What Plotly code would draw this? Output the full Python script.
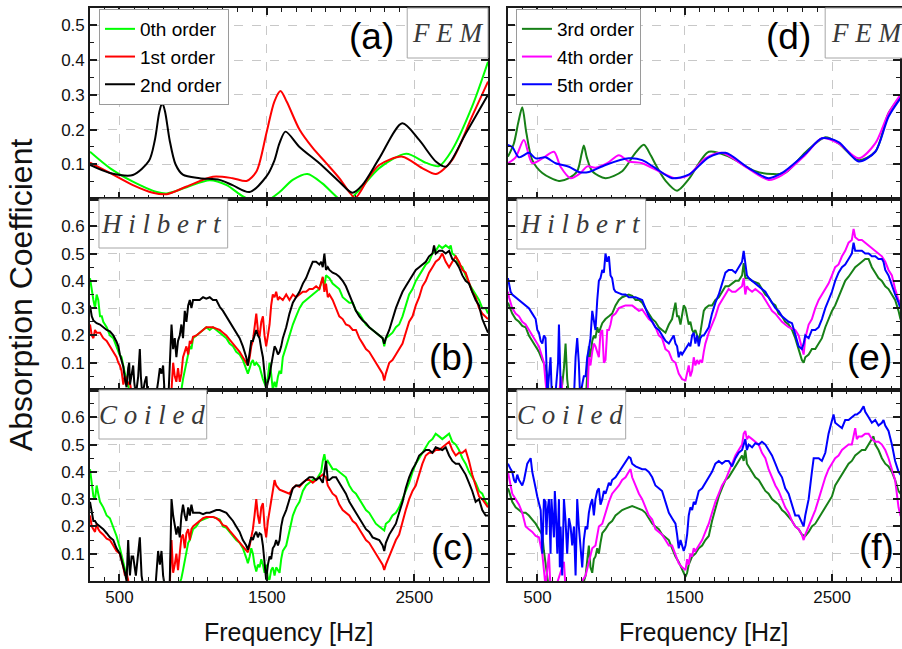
import plotly.graph_objects as go

# ---------------- data: (frequency [Hz], absorption coefficient) ----------------
# (a) FEM, orders 0-2
fem0 = [(300, 0.136), (435, 0.089), (591, 0.05), (753, 0.02), (821, 0.016), (956, 0.034), (1112, 0.054),
        (1227, 0.04), (1335, 0.008), (1420, -0.008), (1500, -0.005), (1586, 0.02), (1675, 0.055), (1775, 0.072),
        (1876, 0.045), (1991, 0.0), (2038, -0.008), (2127, 0.026), (2262, 0.089), (2445, 0.13), (2580, 0.104),
        (2668, 0.095), (2756, 0.141), (2891, 0.265), (3000, 0.395)]
fem1 = [(300, 0.105), (435, 0.075), (591, 0.04), (726, 0.018), (821, 0.014), (956, 0.036), (1134, 0.064),
        (1267, 0.06), (1362, 0.052), (1430, 0.08), (1497, 0.19), (1550, 0.28), (1592, 0.311), (1635, 0.28),
        (1721, 0.2), (1811, 0.147), (1901, 0.104), (1991, 0.06), (2059, 0.02), (2100, 0.003), (2194, 0.064),
        (2262, 0.098), (2418, 0.122), (2553, 0.089), (2648, 0.072), (2756, 0.112), (2891, 0.237), (3000, 0.338)]
fem2 = [(300, 0.098), (435, 0.075), (591, 0.069), (700, 0.11), (740, 0.17), (770, 0.25), (790, 0.277),
        (810, 0.25), (840, 0.17), (880, 0.10), (930, 0.07), (1044, 0.06), (1179, 0.055), (1267, 0.04),
        (1382, 0.02), (1497, 0.065), (1550, 0.11), (1585, 0.16), (1626, 0.194), (1721, 0.15), (1856, 0.103),
        (1991, 0.05), (2080, 0.018), (2147, 0.04), (2262, 0.117), (2418, 0.218), (2533, 0.17), (2648, 0.107),
        (2715, 0.093), (2851, 0.19), (3000, 0.30)]
# (d) FEM, orders 3-5
fem3 = [(300, 0.122), (340, 0.16), (370, 0.22), (397, 0.264), (425, 0.19), (465, 0.112), (533, 0.075),
        (646, 0.052), (714, 0.06), (770, 0.08), (800, 0.13), (815, 0.154), (835, 0.12), (872, 0.08), (962, 0.06),
        (1075, 0.08), (1160, 0.13), (1222, 0.156), (1270, 0.125), (1301, 0.1), (1369, 0.053), (1448, 0.024),
        (1527, 0.057), (1663, 0.136), (1798, 0.122), (1979, 0.08), (2092, 0.072), (2182, 0.075), (2318, 0.134),
        (2454, 0.178), (2544, 0.16), (2680, 0.112), (2793, 0.136), (2883, 0.247), (2964, 0.295), (3000, 0.32)]
fem4 = [(300, 0.103), (352, 0.12), (408, 0.17), (465, 0.103), (544, 0.12), (612, 0.136), (657, 0.093),
        (725, 0.06), (793, 0.075), (838, 0.094), (894, 0.09), (974, 0.103), (1053, 0.126), (1120, 0.108),
        (1211, 0.103), (1346, 0.075), (1437, 0.06), (1527, 0.069), (1640, 0.117), (1753, 0.133), (1911, 0.093),
        (2069, 0.055), (2160, 0.069), (2318, 0.127), (2431, 0.175), (2544, 0.16), (2680, 0.117), (2793, 0.16),
        (2883, 0.247), (2964, 0.3), (3000, 0.32)]
fem5 = [(300, 0.156), (329, 0.15), (375, 0.12), (442, 0.133), (488, 0.117), (555, 0.12), (623, 0.103),
        (714, 0.093), (781, 0.078), (849, 0.078), (962, 0.098), (1120, 0.117), (1211, 0.112), (1301, 0.089),
        (1414, 0.06), (1527, 0.07), (1663, 0.12), (1776, 0.133), (1934, 0.089), (2069, 0.06), (2160, 0.075),
        (2318, 0.13), (2431, 0.175), (2544, 0.164), (2680, 0.108), (2793, 0.136), (2883, 0.237), (2964, 0.29),
        (3000, 0.31)]

# (b) Hilbert, orders 0-2
hil0 = [(300, 0.41), (312, 0.36), (323, 0.33), (334, 0.30), (345, 0.35), (356, 0.33), (368, 0.27), (380, 0.27),
        (390, 0.25), (413, 0.23), (435, 0.20), (458, 0.19), (480, 0.16), (500, 0.13), (514, 0.12), (526, 0.08),
        (537, 0.06), (548, 0.04), (559, 0.02), (570, -0.02), (600, -0.05), (700, -0.05), (800, -0.05), (900, -0.03),
        (920, 0.0), (931, 0.04), (943, 0.07), (954, 0.10), (966, 0.13), (977, 0.16), (988, 0.15), (999, 0.19),
        (1022, 0.20), (1044, 0.21), (1067, 0.22), (1089, 0.23), (1112, 0.22), (1134, 0.23), (1157, 0.22),
        (1180, 0.21), (1202, 0.20), (1225, 0.19), (1247, 0.17), (1270, 0.16), (1292, 0.14), (1315, 0.13),
        (1337, 0.11), (1360, 0.08), (1371, 0.06), (1383, 0.08), (1394, 0.10), (1405, 0.11), (1416, 0.09),
        (1428, 0.10), (1450, 0.085), (1473, 0.04), (1495, 0.01), (1507, 0.05), (1518, 0.10), (1529, 0.06),
        (1540, 0.0), (1552, 0.03), (1563, 0.01), (1575, 0.05), (1586, 0.07), (1597, 0.06), (1608, 0.12),
        (1631, 0.16), (1653, 0.20), (1676, 0.24), (1698, 0.27), (1721, 0.30), (1744, 0.32), (1766, 0.33),
        (1788, 0.34), (1811, 0.35), (1834, 0.36), (1856, 0.37), (1879, 0.41), (1890, 0.38), (1901, 0.42),
        (1924, 0.41), (1946, 0.39), (1969, 0.38), (1991, 0.37), (2014, 0.34), (2036, 0.33), (2059, 0.32),
        (2082, 0.32), (2104, 0.29), (2127, 0.28), (2150, 0.26), (2172, 0.24), (2194, 0.23), (2217, 0.22),
        (2239, 0.21), (2262, 0.20), (2285, 0.19), (2296, 0.16), (2307, 0.19), (2330, 0.20), (2352, 0.21),
        (2375, 0.23), (2397, 0.24), (2420, 0.27), (2442, 0.31), (2465, 0.35), (2488, 0.37), (2510, 0.40),
        (2533, 0.42), (2555, 0.44), (2578, 0.46), (2600, 0.47), (2623, 0.50), (2645, 0.51), (2668, 0.53),
        (2690, 0.52), (2713, 0.53), (2736, 0.52), (2747, 0.53), (2758, 0.50), (2781, 0.49), (2803, 0.46),
        (2826, 0.45), (2848, 0.42), (2871, 0.39), (2893, 0.37), (2916, 0.35), (2939, 0.33), (2961, 0.30),
        (2984, 0.30), (3000, 0.28)]
hil1 = [(300, 0.24), (312, 0.20), (323, 0.19), (334, 0.22), (345, 0.21), (368, 0.21), (390, 0.19), (413, 0.18),
        (435, 0.16), (458, 0.14), (480, 0.12), (492, 0.10), (503, 0.09), (514, 0.07), (526, 0.02), (537, 0.05),
        (548, 0.04), (559, 0.02), (570, 0.03), (582, -0.01), (600, -0.05), (700, -0.05), (800, -0.05),
        (840, -0.02), (853, 0.0), (864, 0.10), (875, 0.05), (886, 0.03), (897, 0.08), (909, 0.03), (920, 0.06),
        (931, 0.12), (943, 0.14), (954, 0.16), (966, 0.13), (977, 0.18), (988, 0.17), (999, 0.195), (1022, 0.20),
        (1044, 0.21), (1067, 0.22), (1089, 0.23), (1112, 0.23), (1134, 0.23), (1157, 0.225), (1180, 0.22),
        (1202, 0.21), (1225, 0.20), (1247, 0.185), (1270, 0.17), (1292, 0.155), (1315, 0.14), (1337, 0.12),
        (1360, 0.10), (1371, 0.09), (1383, 0.12), (1394, 0.16), (1405, 0.18), (1416, 0.24), (1428, 0.28),
        (1439, 0.22), (1450, 0.195), (1462, 0.25), (1473, 0.27), (1484, 0.20), (1495, 0.16), (1507, 0.20),
        (1518, 0.24), (1529, 0.31), (1540, 0.35), (1552, 0.34), (1563, 0.36), (1575, 0.33), (1586, 0.34),
        (1608, 0.33), (1631, 0.35), (1653, 0.33), (1676, 0.35), (1698, 0.34), (1721, 0.35), (1744, 0.36),
        (1766, 0.36), (1788, 0.37), (1811, 0.37), (1834, 0.38), (1856, 0.37), (1868, 0.40), (1879, 0.415),
        (1890, 0.36), (1901, 0.39), (1913, 0.34), (1924, 0.35), (1946, 0.33), (1969, 0.30), (1991, 0.27),
        (2014, 0.26), (2036, 0.24), (2059, 0.235), (2082, 0.22), (2104, 0.22), (2127, 0.19), (2150, 0.17),
        (2172, 0.15), (2194, 0.14), (2217, 0.12), (2239, 0.10), (2262, 0.085), (2285, 0.06), (2296, 0.035),
        (2307, 0.06), (2330, 0.10), (2352, 0.11), (2375, 0.13), (2397, 0.15), (2420, 0.17), (2442, 0.21),
        (2465, 0.25), (2488, 0.27), (2510, 0.31), (2533, 0.34), (2555, 0.38), (2578, 0.40), (2600, 0.43),
        (2623, 0.45), (2645, 0.47), (2668, 0.48), (2690, 0.50), (2713, 0.47), (2736, 0.45), (2758, 0.47),
        (2781, 0.49), (2803, 0.47), (2826, 0.44), (2848, 0.43), (2871, 0.39), (2893, 0.36), (2916, 0.34),
        (2939, 0.30), (2961, 0.28), (2984, 0.27), (3000, 0.26)]
hil2 = [(300, 0.31), (312, 0.27), (323, 0.255), (334, 0.25), (345, 0.245), (368, 0.24), (390, 0.23),
        (413, 0.22), (435, 0.215), (458, 0.20), (480, 0.177), (492, 0.16), (503, 0.13), (514, 0.11), (526, 0.085),
        (537, 0.04), (548, 0.01), (559, 0.08), (566, 0.10), (571, 0.02), (582, 0.05), (593, 0.09), (600, 0.03),
        (611, -0.02), (627, 0.05), (638, 0.15), (645, 0.05), (655, -0.02), (672, 0.03), (683, 0.05),
        (692, -0.03), (740, -0.05), (762, 0.03), (774, 0.08), (785, 0.06), (796, 0.09), (805, 0.0), (830, -0.05),
        (853, 0.24), (864, 0.15), (875, 0.19), (886, 0.12), (897, 0.18), (909, 0.20), (920, 0.24), (931, 0.19),
        (943, 0.29), (954, 0.25), (966, 0.31), (977, 0.33), (988, 0.30), (999, 0.33), (1022, 0.33), (1044, 0.33),
        (1067, 0.34), (1089, 0.335), (1112, 0.34), (1134, 0.33), (1157, 0.33), (1180, 0.305), (1202, 0.29),
        (1225, 0.27), (1247, 0.25), (1270, 0.23), (1292, 0.21), (1315, 0.19), (1337, 0.16), (1360, 0.12),
        (1371, 0.09), (1383, 0.13), (1394, 0.18), (1405, 0.18), (1416, 0.20), (1428, 0.22), (1439, 0.20),
        (1450, 0.19), (1462, 0.15), (1473, 0.12), (1484, 0.06), (1495, 0.0), (1507, 0.03), (1518, 0.05),
        (1529, 0.09), (1540, 0.12), (1552, 0.16), (1563, 0.15), (1575, 0.13), (1586, 0.14), (1597, 0.16),
        (1608, 0.19), (1631, 0.23), (1653, 0.28), (1676, 0.32), (1698, 0.34), (1721, 0.36), (1744, 0.39),
        (1766, 0.41), (1788, 0.44), (1811, 0.47), (1834, 0.47), (1856, 0.46), (1868, 0.47), (1879, 0.45),
        (1890, 0.50), (1901, 0.44), (1913, 0.45), (1924, 0.44), (1946, 0.43), (1969, 0.425), (1991, 0.415),
        (2014, 0.40), (2036, 0.38), (2059, 0.35), (2082, 0.32), (2104, 0.29), (2127, 0.27), (2150, 0.255),
        (2172, 0.245), (2194, 0.23), (2217, 0.22), (2239, 0.21), (2262, 0.20), (2285, 0.19), (2296, 0.17),
        (2307, 0.19), (2330, 0.22), (2352, 0.26), (2375, 0.30), (2397, 0.33), (2420, 0.36), (2442, 0.38),
        (2465, 0.40), (2488, 0.42), (2510, 0.44), (2533, 0.45), (2555, 0.46), (2578, 0.47), (2600, 0.49),
        (2623, 0.50), (2634, 0.53), (2645, 0.50), (2668, 0.51), (2690, 0.51), (2713, 0.50), (2736, 0.51),
        (2758, 0.48), (2781, 0.47), (2803, 0.45), (2826, 0.42), (2848, 0.40), (2871, 0.39), (2893, 0.36),
        (2916, 0.33), (2939, 0.31), (2961, 0.26), (2984, 0.23), (3000, 0.21)]

# (c) Coiled, orders 0-2
coi0 = [(300, 0.41), (312, 0.35), (323, 0.31), (334, 0.30), (345, 0.35), (356, 0.32), (368, 0.29), (390, 0.27),
        (413, 0.24), (435, 0.23), (458, 0.20), (480, 0.165), (503, 0.12), (526, 0.07), (548, 0.03), (559, 0.005),
        (570, -0.03), (700, -0.05), (850, -0.05), (900, -0.02), (920, 0.01), (931, 0.04), (943, 0.08),
        (954, 0.11), (966, 0.14), (977, 0.15), (999, 0.19), (1022, 0.20), (1044, 0.22), (1067, 0.225),
        (1089, 0.23), (1112, 0.235), (1134, 0.235), (1157, 0.23), (1180, 0.225), (1202, 0.20), (1225, 0.195),
        (1247, 0.18), (1270, 0.165), (1292, 0.15), (1315, 0.14), (1337, 0.12), (1360, 0.085), (1371, 0.065),
        (1383, 0.09), (1394, 0.12), (1405, 0.10), (1416, 0.06), (1428, 0.035), (1439, 0.06), (1450, 0.05),
        (1462, 0.08), (1473, 0.06), (1484, 0.03), (1495, 0.06), (1507, 0.01), (1518, 0.005), (1529, 0.04),
        (1540, 0.05), (1552, 0.02), (1563, 0.05), (1575, 0.04), (1586, 0.03), (1597, 0.08), (1608, 0.11),
        (1631, 0.13), (1653, 0.19), (1676, 0.24), (1698, 0.27), (1721, 0.29), (1744, 0.33), (1766, 0.35),
        (1788, 0.36), (1811, 0.37), (1834, 0.37), (1856, 0.39), (1868, 0.40), (1879, 0.44), (1890, 0.465),
        (1901, 0.43), (1913, 0.44), (1924, 0.43), (1946, 0.41), (1969, 0.41), (1991, 0.40), (2014, 0.39),
        (2036, 0.38), (2059, 0.35), (2082, 0.33), (2104, 0.32), (2127, 0.30), (2150, 0.28), (2172, 0.26),
        (2194, 0.25), (2217, 0.23), (2239, 0.21), (2262, 0.20), (2285, 0.19), (2296, 0.185), (2307, 0.21),
        (2330, 0.22), (2352, 0.24), (2375, 0.25), (2397, 0.27), (2420, 0.30), (2442, 0.33), (2465, 0.36),
        (2488, 0.40), (2510, 0.43), (2533, 0.45), (2555, 0.47), (2578, 0.49), (2600, 0.51), (2623, 0.52),
        (2645, 0.54), (2668, 0.53), (2690, 0.52), (2713, 0.53), (2736, 0.54), (2758, 0.51), (2781, 0.50),
        (2803, 0.48), (2826, 0.45), (2848, 0.43), (2871, 0.40), (2893, 0.38), (2916, 0.36), (2939, 0.33),
        (2961, 0.32), (2984, 0.29), (3000, 0.28)]
coi1 = [(300, 0.24), (312, 0.20), (323, 0.19), (334, 0.18), (345, 0.21), (356, 0.19), (368, 0.18), (390, 0.17),
        (413, 0.155), (435, 0.15), (458, 0.13), (480, 0.11), (503, 0.10), (514, 0.08), (526, 0.05), (537, 0.02),
        (548, 0.03), (560, 0.0), (575, -0.03), (700, -0.05), (840, -0.03), (853, 0.15), (864, 0.03), (875, 0.06),
        (886, 0.10), (897, 0.04), (909, 0.12), (920, 0.16), (931, 0.17), (943, 0.12), (954, 0.175), (966, 0.19),
        (977, 0.15), (988, 0.19), (999, 0.20), (1022, 0.21), (1044, 0.22), (1067, 0.23), (1089, 0.235),
        (1112, 0.235), (1134, 0.235), (1157, 0.23), (1180, 0.22), (1202, 0.205), (1225, 0.20), (1247, 0.185),
        (1270, 0.17), (1292, 0.155), (1315, 0.14), (1337, 0.125), (1360, 0.11), (1371, 0.105), (1383, 0.13),
        (1394, 0.16), (1405, 0.19), (1416, 0.24), (1428, 0.30), (1439, 0.24), (1450, 0.21), (1462, 0.27),
        (1473, 0.285), (1484, 0.20), (1495, 0.16), (1507, 0.22), (1518, 0.26), (1529, 0.30), (1540, 0.34),
        (1552, 0.37), (1563, 0.35), (1575, 0.34), (1586, 0.335), (1608, 0.33), (1631, 0.325), (1653, 0.32),
        (1676, 0.34), (1698, 0.35), (1721, 0.345), (1744, 0.36), (1766, 0.37), (1788, 0.37), (1811, 0.36),
        (1834, 0.37), (1856, 0.38), (1879, 0.39), (1901, 0.38), (1913, 0.35), (1924, 0.34), (1946, 0.32),
        (1969, 0.31), (1991, 0.28), (2014, 0.26), (2036, 0.25), (2059, 0.24), (2082, 0.22), (2104, 0.21),
        (2127, 0.19), (2150, 0.17), (2172, 0.15), (2194, 0.14), (2217, 0.12), (2239, 0.10), (2262, 0.08),
        (2285, 0.06), (2296, 0.04), (2307, 0.06), (2330, 0.09), (2352, 0.12), (2375, 0.15), (2397, 0.17),
        (2420, 0.22), (2442, 0.26), (2465, 0.30), (2488, 0.33), (2510, 0.35), (2533, 0.39), (2555, 0.43),
        (2578, 0.46), (2600, 0.47), (2623, 0.47), (2645, 0.48), (2668, 0.48), (2690, 0.49), (2713, 0.50),
        (2736, 0.51), (2758, 0.48), (2781, 0.46), (2803, 0.47), (2826, 0.47), (2848, 0.48), (2871, 0.44),
        (2893, 0.39), (2916, 0.35), (2939, 0.31), (2961, 0.30), (2984, 0.28), (3000, 0.27)]
coi2 = [(300, 0.29), (312, 0.25), (323, 0.22), (334, 0.22), (345, 0.21), (368, 0.20), (390, 0.19), (413, 0.175),
        (435, 0.16), (458, 0.15), (480, 0.12), (503, 0.10), (514, 0.08), (526, 0.05), (537, 0.03), (548, 0.0),
        (559, 0.15), (566, 0.06), (571, 0.02), (582, 0.09), (593, 0.09), (611, 0.02), (638, 0.16), (650, 0.02),
        (661, -0.02), (683, 0.0), (700, -0.05), (740, -0.05), (762, 0.11), (774, 0.06), (785, 0.11), (796, 0.02),
        (810, -0.03), (840, -0.03), (853, 0.30), (864, 0.24), (875, 0.21), (886, 0.17), (897, 0.20), (909, 0.16),
        (920, 0.24), (931, 0.28), (943, 0.24), (954, 0.22), (966, 0.27), (977, 0.24), (988, 0.28), (999, 0.25),
        (1022, 0.25), (1044, 0.25), (1067, 0.245), (1089, 0.25), (1112, 0.25), (1134, 0.255), (1157, 0.26),
        (1180, 0.26), (1202, 0.255), (1225, 0.25), (1247, 0.235), (1270, 0.22), (1292, 0.20), (1315, 0.18),
        (1337, 0.15), (1360, 0.13), (1371, 0.115), (1383, 0.14), (1394, 0.16), (1405, 0.15), (1416, 0.17),
        (1428, 0.18), (1439, 0.16), (1450, 0.175), (1462, 0.17), (1473, 0.13), (1484, 0.06), (1495, 0.005),
        (1507, 0.06), (1518, 0.09), (1529, 0.08), (1540, 0.12), (1552, 0.13), (1563, 0.15), (1575, 0.13),
        (1586, 0.15), (1597, 0.20), (1608, 0.23), (1631, 0.26), (1653, 0.30), (1676, 0.34), (1698, 0.35),
        (1721, 0.35), (1744, 0.36), (1766, 0.37), (1788, 0.38), (1811, 0.38), (1834, 0.37), (1856, 0.38),
        (1879, 0.36), (1890, 0.40), (1901, 0.44), (1913, 0.37), (1924, 0.37), (1946, 0.38), (1969, 0.38),
        (1991, 0.36), (2014, 0.34), (2036, 0.32), (2059, 0.29), (2082, 0.27), (2104, 0.25), (2127, 0.23),
        (2150, 0.21), (2172, 0.19), (2194, 0.18), (2217, 0.16), (2239, 0.155), (2262, 0.15), (2285, 0.13),
        (2296, 0.11), (2307, 0.14), (2330, 0.17), (2352, 0.19), (2375, 0.21), (2397, 0.25), (2420, 0.29),
        (2442, 0.34), (2465, 0.38), (2488, 0.41), (2510, 0.43), (2533, 0.46), (2555, 0.47), (2578, 0.48),
        (2600, 0.48), (2623, 0.47), (2645, 0.49), (2668, 0.485), (2690, 0.48), (2713, 0.49), (2736, 0.46),
        (2758, 0.44), (2781, 0.43), (2803, 0.43), (2826, 0.41), (2848, 0.39), (2871, 0.36), (2893, 0.33),
        (2916, 0.29), (2939, 0.30), (2961, 0.26), (2984, 0.24), (3000, 0.24)]

# (e) Hilbert, orders 3-5
hil3 = [(300, 0.32), (307, 0.31), (329, 0.28), (352, 0.26), (375, 0.25), (397, 0.235), (420, 0.23), (442, 0.20),
        (465, 0.18), (488, 0.16), (510, 0.14), (533, 0.11), (555, 0.085), (567, 0.05), (578, -0.02), (600, -0.05),
        (650, -0.03), (668, 0.02), (680, 0.08), (691, 0.17), (702, 0.04), (714, -0.02), (760, -0.05),
        (830, -0.02), (849, 0.16), (860, 0.12), (872, 0.18), (883, 0.20), (894, 0.19), (906, 0.23), (917, 0.21),
        (940, 0.245), (962, 0.26), (985, 0.27), (1007, 0.28), (1030, 0.31), (1053, 0.33), (1075, 0.34),
        (1098, 0.345), (1120, 0.35), (1143, 0.345), (1166, 0.33), (1189, 0.33), (1211, 0.32), (1233, 0.30),
        (1256, 0.28), (1279, 0.26), (1301, 0.25), (1324, 0.23), (1346, 0.22), (1369, 0.21), (1392, 0.24),
        (1414, 0.26), (1425, 0.29), (1437, 0.32), (1448, 0.27), (1459, 0.27), (1471, 0.24), (1482, 0.28),
        (1493, 0.31), (1505, 0.30), (1516, 0.27), (1527, 0.24), (1538, 0.25), (1550, 0.22), (1561, 0.21),
        (1572, 0.22), (1584, 0.20), (1595, 0.18), (1606, 0.21), (1618, 0.26), (1629, 0.29), (1640, 0.30),
        (1663, 0.31), (1685, 0.31), (1708, 0.33), (1731, 0.34), (1753, 0.36), (1776, 0.38), (1798, 0.38),
        (1821, 0.39), (1844, 0.40), (1866, 0.40), (1889, 0.42), (1900, 0.465), (1911, 0.41), (1934, 0.41),
        (1957, 0.40), (1979, 0.395), (2002, 0.39), (2024, 0.37), (2047, 0.35), (2069, 0.34), (2092, 0.32),
        (2115, 0.31), (2137, 0.28), (2160, 0.27), (2182, 0.25), (2205, 0.24), (2228, 0.22), (2250, 0.19),
        (2273, 0.15), (2295, 0.11), (2307, 0.10), (2318, 0.12), (2341, 0.13), (2363, 0.15), (2386, 0.15),
        (2409, 0.17), (2431, 0.19), (2454, 0.23), (2476, 0.26), (2499, 0.29), (2521, 0.31), (2544, 0.34),
        (2567, 0.37), (2589, 0.40), (2612, 0.415), (2634, 0.43), (2657, 0.45), (2680, 0.46), (2702, 0.47),
        (2725, 0.48), (2748, 0.48), (2770, 0.45), (2793, 0.43), (2815, 0.41), (2838, 0.40), (2861, 0.38),
        (2883, 0.37), (2906, 0.35), (2928, 0.33), (2951, 0.29), (2964, 0.26), (3000, 0.24)]
hil4 = [(300, 0.36), (307, 0.34), (329, 0.30), (352, 0.28), (375, 0.27), (397, 0.25), (420, 0.24), (442, 0.22),
        (465, 0.20), (488, 0.18), (510, 0.16), (533, 0.12), (544, 0.10), (555, 0.03), (567, -0.03), (600, -0.05),
        (650, 0.0), (660, 0.05), (672, -0.02), (720, -0.05), (840, -0.03), (849, 0.12), (860, 0.09), (872, 0.14),
        (883, 0.17), (894, 0.16), (906, 0.14), (917, 0.12), (928, 0.21), (940, 0.22), (951, 0.10), (962, 0.11),
        (974, 0.22), (985, 0.22), (996, 0.24), (1007, 0.27), (1030, 0.28), (1053, 0.30), (1075, 0.305),
        (1098, 0.31), (1120, 0.31), (1143, 0.31), (1166, 0.30), (1189, 0.29), (1211, 0.295), (1233, 0.28),
        (1256, 0.26), (1279, 0.25), (1301, 0.23), (1324, 0.20), (1346, 0.19), (1369, 0.15), (1392, 0.14),
        (1414, 0.11), (1437, 0.10), (1459, 0.06), (1482, 0.04), (1505, 0.035), (1516, 0.06), (1527, 0.09),
        (1538, 0.05), (1550, 0.07), (1561, 0.12), (1572, 0.09), (1584, 0.11), (1595, 0.095), (1606, 0.11),
        (1618, 0.10), (1629, 0.14), (1640, 0.17), (1663, 0.21), (1685, 0.24), (1708, 0.27), (1731, 0.31),
        (1753, 0.33), (1776, 0.35), (1798, 0.37), (1821, 0.36), (1844, 0.36), (1866, 0.37), (1889, 0.38),
        (1900, 0.41), (1911, 0.35), (1922, 0.38), (1934, 0.37), (1957, 0.36), (1979, 0.37), (2002, 0.36),
        (2024, 0.35), (2047, 0.33), (2069, 0.31), (2092, 0.29), (2115, 0.28), (2137, 0.265), (2160, 0.25),
        (2182, 0.24), (2205, 0.23), (2228, 0.225), (2250, 0.22), (2273, 0.20), (2295, 0.16), (2307, 0.13),
        (2318, 0.19), (2341, 0.24), (2363, 0.26), (2386, 0.30), (2409, 0.33), (2431, 0.35), (2454, 0.37),
        (2476, 0.39), (2499, 0.42), (2521, 0.45), (2544, 0.46), (2567, 0.49), (2589, 0.51), (2612, 0.54),
        (2634, 0.55), (2646, 0.59), (2657, 0.56), (2680, 0.55), (2702, 0.55), (2725, 0.54), (2748, 0.53),
        (2770, 0.52), (2793, 0.51), (2815, 0.50), (2838, 0.49), (2861, 0.47), (2883, 0.44), (2906, 0.42),
        (2928, 0.37), (2951, 0.33), (2964, 0.32), (3000, 0.30)]
hil5 = [(300, 0.41), (307, 0.39), (318, 0.36), (329, 0.35), (352, 0.34), (375, 0.33), (397, 0.32), (420, 0.31),
        (442, 0.30), (465, 0.28), (488, 0.26), (499, 0.22), (510, 0.21), (522, 0.18), (533, 0.17), (544, 0.20),
        (555, 0.19), (561, 0.10), (567, -0.02), (578, 0.05), (589, 0.12), (595, 0.02), (601, -0.03), (623, -0.01),
        (640, 0.10), (646, 0.24), (652, 0.10), (660, -0.03), (700, -0.05), (750, 0.0), (759, 0.12), (770, 0.19),
        (781, 0.10), (790, -0.03), (804, 0.02), (815, 0.05), (827, 0.05), (838, 0.12), (849, 0.15), (860, 0.19),
        (872, 0.29), (883, 0.25), (894, 0.22), (906, 0.33), (917, 0.40), (928, 0.41), (940, 0.44), (951, 0.43),
        (962, 0.50), (973, 0.47), (985, 0.49), (996, 0.42), (1007, 0.41), (1019, 0.37), (1030, 0.36),
        (1053, 0.355), (1075, 0.35), (1098, 0.35), (1120, 0.34), (1143, 0.34), (1166, 0.34), (1189, 0.335),
        (1211, 0.33), (1233, 0.30), (1256, 0.27), (1279, 0.25), (1301, 0.23), (1324, 0.22), (1346, 0.20),
        (1369, 0.18), (1392, 0.17), (1414, 0.19), (1425, 0.20), (1437, 0.17), (1448, 0.16), (1459, 0.12),
        (1471, 0.14), (1482, 0.13), (1505, 0.15), (1527, 0.17), (1538, 0.16), (1550, 0.20), (1561, 0.21),
        (1572, 0.17), (1584, 0.20), (1595, 0.16), (1606, 0.19), (1618, 0.20), (1629, 0.20), (1640, 0.21),
        (1663, 0.23), (1685, 0.28), (1708, 0.32), (1731, 0.35), (1753, 0.39), (1776, 0.43), (1798, 0.44),
        (1821, 0.44), (1844, 0.43), (1866, 0.45), (1889, 0.47), (1900, 0.51), (1911, 0.47), (1922, 0.42),
        (1934, 0.41), (1957, 0.40), (1979, 0.39), (2002, 0.38), (2024, 0.37), (2047, 0.36), (2069, 0.34),
        (2092, 0.32), (2115, 0.30), (2137, 0.29), (2160, 0.27), (2182, 0.26), (2205, 0.25), (2228, 0.245),
        (2250, 0.20), (2273, 0.16), (2295, 0.15), (2307, 0.17), (2318, 0.20), (2341, 0.19), (2363, 0.22),
        (2386, 0.22), (2409, 0.23), (2431, 0.26), (2454, 0.30), (2476, 0.33), (2499, 0.36), (2521, 0.40),
        (2544, 0.43), (2567, 0.45), (2589, 0.46), (2612, 0.48), (2634, 0.50), (2646, 0.54), (2657, 0.51),
        (2680, 0.51), (2702, 0.51), (2725, 0.50), (2748, 0.50), (2770, 0.49), (2793, 0.49), (2815, 0.48),
        (2838, 0.48), (2849, 0.47), (2861, 0.44), (2883, 0.42), (2906, 0.38), (2928, 0.35), (2951, 0.32),
        (2964, 0.30), (3000, 0.28)]

# (f) Coiled, orders 3-5
coi3 = [(300, 0.34), (307, 0.33), (329, 0.29), (352, 0.27), (375, 0.26), (397, 0.25), (420, 0.25), (442, 0.24),
        (465, 0.225), (488, 0.21), (510, 0.19), (533, 0.17), (544, 0.11), (555, 0.06), (567, 0.02), (578, -0.03),
        (700, -0.05), (800, -0.03), (827, 0.02), (849, 0.13), (860, 0.05), (872, 0.03), (883, 0.08), (894, 0.09),
        (906, 0.12), (917, 0.10), (928, 0.14), (940, 0.175), (962, 0.19), (985, 0.21), (1007, 0.22),
        (1030, 0.24), (1053, 0.25), (1075, 0.26), (1098, 0.265), (1120, 0.27), (1143, 0.275), (1166, 0.27),
        (1189, 0.265), (1211, 0.26), (1233, 0.25), (1256, 0.23), (1279, 0.21), (1301, 0.20), (1324, 0.19),
        (1346, 0.17), (1369, 0.16), (1392, 0.15), (1414, 0.12), (1437, 0.09), (1459, 0.07), (1482, 0.04),
        (1505, 0.015), (1516, 0.03), (1527, 0.06), (1550, 0.09), (1572, 0.10), (1595, 0.12), (1618, 0.13),
        (1640, 0.15), (1663, 0.165), (1685, 0.22), (1708, 0.27), (1731, 0.31), (1753, 0.34), (1776, 0.37),
        (1798, 0.38), (1821, 0.40), (1844, 0.42), (1866, 0.44), (1889, 0.46), (1900, 0.44), (1911, 0.48),
        (1922, 0.43), (1934, 0.42), (1957, 0.40), (1979, 0.38), (2002, 0.37), (2024, 0.35), (2047, 0.33),
        (2069, 0.32), (2092, 0.30), (2115, 0.29), (2137, 0.28), (2160, 0.26), (2182, 0.25), (2205, 0.235),
        (2228, 0.22), (2250, 0.20), (2273, 0.19), (2295, 0.17), (2318, 0.165), (2341, 0.18), (2363, 0.20),
        (2386, 0.21), (2409, 0.23), (2431, 0.25), (2454, 0.27), (2476, 0.29), (2499, 0.31), (2521, 0.35),
        (2544, 0.37), (2567, 0.39), (2589, 0.41), (2612, 0.43), (2634, 0.44), (2657, 0.46), (2680, 0.47),
        (2702, 0.48), (2725, 0.48), (2748, 0.50), (2770, 0.52), (2781, 0.53), (2793, 0.50), (2815, 0.48),
        (2838, 0.45), (2861, 0.43), (2883, 0.42), (2906, 0.40), (2928, 0.37), (2951, 0.33), (2964, 0.32),
        (3000, 0.30)]
coi4 = [(300, 0.40), (307, 0.38), (329, 0.32), (352, 0.30), (375, 0.28), (397, 0.25), (420, 0.20), (442, 0.19),
        (465, 0.18), (488, 0.165), (510, 0.16), (533, 0.10), (544, 0.05), (555, -0.02), (578, 0.10),
        (589, -0.03), (620, -0.03), (680, 0.07), (691, -0.03), (740, -0.05), (827, 0.02), (849, 0.07),
        (872, 0.12), (894, 0.13), (917, 0.20), (940, 0.21), (962, 0.25), (985, 0.29), (1007, 0.32),
        (1030, 0.335), (1053, 0.35), (1075, 0.37), (1098, 0.38), (1120, 0.40), (1132, 0.41), (1143, 0.38),
        (1166, 0.35), (1189, 0.32), (1211, 0.30), (1233, 0.27), (1256, 0.24), (1279, 0.225), (1301, 0.19),
        (1324, 0.18), (1346, 0.17), (1369, 0.15), (1392, 0.13), (1414, 0.13), (1437, 0.10), (1459, 0.065),
        (1482, 0.05), (1505, 0.04), (1516, 0.08), (1527, 0.06), (1538, 0.10), (1550, 0.09), (1561, 0.12),
        (1572, 0.11), (1595, 0.13), (1618, 0.15), (1640, 0.18), (1663, 0.21), (1685, 0.25), (1708, 0.29),
        (1731, 0.32), (1753, 0.35), (1776, 0.37), (1798, 0.40), (1821, 0.43), (1844, 0.46), (1866, 0.48),
        (1889, 0.50), (1900, 0.54), (1911, 0.55), (1922, 0.52), (1934, 0.53), (1957, 0.52), (1979, 0.51),
        (2002, 0.50), (2024, 0.47), (2047, 0.45), (2069, 0.41), (2092, 0.38), (2115, 0.35), (2137, 0.33),
        (2160, 0.30), (2182, 0.27), (2205, 0.25), (2228, 0.22), (2250, 0.20), (2273, 0.19), (2295, 0.17),
        (2307, 0.15), (2318, 0.17), (2341, 0.20), (2363, 0.23), (2386, 0.26), (2409, 0.30), (2431, 0.34),
        (2454, 0.38), (2476, 0.41), (2499, 0.43), (2521, 0.45), (2544, 0.46), (2567, 0.48), (2589, 0.49),
        (2612, 0.50), (2634, 0.50), (2657, 0.56), (2668, 0.52), (2680, 0.53), (2702, 0.53), (2725, 0.54),
        (2748, 0.54), (2770, 0.52), (2793, 0.51), (2815, 0.51), (2838, 0.50), (2861, 0.48), (2883, 0.45),
        (2906, 0.41), (2928, 0.37), (2951, 0.27), (2964, 0.24), (3000, 0.22)]
coi5 = [(300, 0.43), (307, 0.42), (318, 0.41), (329, 0.40), (341, 0.37), (352, 0.36), (363, 0.39), (375, 0.37),
        (386, 0.36), (397, 0.35), (409, 0.37), (420, 0.40), (431, 0.43), (442, 0.44), (454, 0.45), (465, 0.40),
        (477, 0.36), (488, 0.34), (499, 0.31), (510, 0.29), (522, 0.26), (533, 0.10), (539, 0.25), (544, 0.30),
        (555, 0.29), (561, 0.17), (567, 0.25), (578, 0.30), (584, 0.20), (589, 0.10), (595, 0.30), (601, 0.25),
        (612, 0.16), (618, 0.33), (623, 0.28), (635, 0.10), (646, 0.30), (652, 0.05), (657, 0.20), (668, 0.02),
        (674, 0.22), (680, 0.30), (691, 0.22), (702, 0.10), (714, 0.23), (725, 0.20), (736, 0.13), (748, 0.20),
        (759, 0.02), (765, 0.25), (770, 0.30), (781, 0.20), (793, 0.12), (804, 0.05), (815, 0.15), (827, 0.20),
        (838, 0.19), (849, 0.25), (860, 0.28), (872, 0.30), (883, 0.24), (894, 0.30), (906, 0.33), (917, 0.34),
        (928, 0.28), (940, 0.30), (951, 0.33), (962, 0.32), (974, 0.34), (985, 0.36), (996, 0.35), (1007, 0.37),
        (1030, 0.38), (1053, 0.40), (1075, 0.42), (1098, 0.44), (1120, 0.455), (1132, 0.45), (1143, 0.43),
        (1166, 0.42), (1189, 0.415), (1211, 0.41), (1233, 0.41), (1256, 0.40), (1279, 0.38), (1301, 0.35),
        (1324, 0.34), (1346, 0.33), (1369, 0.29), (1392, 0.25), (1414, 0.23), (1437, 0.21), (1448, 0.17),
        (1459, 0.12), (1471, 0.15), (1482, 0.13), (1493, 0.11), (1505, 0.13), (1516, 0.17), (1527, 0.24),
        (1538, 0.27), (1550, 0.26), (1561, 0.29), (1572, 0.28), (1584, 0.31), (1595, 0.33), (1618, 0.34),
        (1640, 0.36), (1663, 0.38), (1685, 0.40), (1708, 0.43), (1731, 0.44), (1753, 0.43), (1776, 0.44),
        (1798, 0.44), (1821, 0.42), (1844, 0.45), (1866, 0.47), (1889, 0.48), (1911, 0.52), (1922, 0.48),
        (1934, 0.50), (1957, 0.49), (1979, 0.505), (2002, 0.50), (2024, 0.51), (2047, 0.50), (2069, 0.48),
        (2092, 0.46), (2115, 0.43), (2137, 0.40), (2160, 0.38), (2182, 0.34), (2205, 0.32), (2228, 0.28),
        (2250, 0.24), (2273, 0.24), (2295, 0.21), (2307, 0.20), (2318, 0.24), (2341, 0.30), (2363, 0.40),
        (2375, 0.45), (2386, 0.45), (2409, 0.45), (2431, 0.44), (2454, 0.47), (2476, 0.54), (2499, 0.59),
        (2510, 0.61), (2521, 0.58), (2544, 0.57), (2567, 0.56), (2589, 0.59), (2612, 0.59), (2634, 0.60),
        (2657, 0.61), (2668, 0.61), (2691, 0.62), (2714, 0.64), (2725, 0.62), (2748, 0.60), (2770, 0.58),
        (2793, 0.59), (2815, 0.57), (2838, 0.58), (2849, 0.59), (2861, 0.57), (2883, 0.55), (2906, 0.50),
        (2928, 0.44), (2951, 0.40), (2964, 0.39), (3000, 0.37)]

order_names_left = ["0th order", "1st order", "2nd order"]
order_names_right = ["3rd order", "4th order", "5th order"]
colors_left = ["#00ff00", "#ff0000", "#000000"]
colors_right = ["#178017", "#ff00ff", "#0000ff"]
x_ticks = [500, 1500, 2500]
y_ticks_top = [0.1, 0.2, 0.3, 0.4, 0.5]
y_ticks_low = [0.1, 0.2, 0.3, 0.4, 0.5, 0.6]
panel_letters = ["(a)", "(b)", "(c)", "(d)", "(e)", "(f)"]

# ---------------- figure ----------------
W, H = 902, 649
ML, MR, MT, MB = 90, 0, 8, 68
PW, PH = W - ML - MR, H - MT - MB
SANS = "Liberation Sans, Arial, Helvetica, sans-serif"
SERIF = "Liberation Serif, Times New Roman, serif"


def px(x):
    return (x - ML) / PW


def py(y):
    return (H - MB - y) / PH


fig = go.Figure()

panels = [  # (series, names, colors, axis index, legend, spline)
    ([fem0, fem1, fem2], order_names_left, colors_left, 1, "legend", True),
    ([hil0, hil1, hil2], order_names_left, colors_left, 2, None, False),
    ([coi0, coi1, coi2], order_names_left, colors_left, 3, None, False),
    ([fem3, fem4, fem5], order_names_right, colors_right, 4, "legend2", True),
    ([hil3, hil4, hil5], order_names_right, colors_right, 5, None, False),
    ([coi3, coi4, coi5], order_names_right, colors_right, 6, None, False),
]

for series_list, names, cols, ax, leg, spline in panels:
    for s, nm, c in zip(series_list, names, cols):
        f, v = zip(*s)
        line = dict(color=c, width=2)
        if spline:
            line.update(shape="spline", smoothing=0.8)
        fig.add_trace(go.Scatter(
            x=list(f), y=list(v), mode="lines", name=nm, line=line,
            xaxis="x" if ax == 1 else f"x{ax}", yaxis="y" if ax == 1 else f"y{ax}",
            showlegend=leg is not None, legend=leg if leg else "legend",
            hoverinfo="skip"))

col_dom = [[0, px(489)], [px(509), 1.0]]
row_dom = [[2 / 3, 1.0], [1 / 3, 2 / 3], [0.0, 1 / 3]]
x_range = [[300, 3000], [300, 2961]]
AX = "#1a1a1a"
GRID = "#c8c8c8"
tickfont = dict(family=SANS, size=17, color="#111")

layout = dict(
    width=W, height=H, margin=dict(l=ML, r=MR, t=MT, b=MB),
    paper_bgcolor="white", plot_bgcolor="white",
    font=dict(family=SANS, color="#000"),
    showlegend=True,
)
for i in range(6):
    col, row = divmod(i, 3)
    k = "" if i == 0 else str(i + 1)
    yt = y_ticks_top if row == 0 else y_ticks_low
    layout["xaxis" + k] = dict(
        domain=col_dom[col], range=x_range[col], anchor="y" + k,
        tickmode="array", tickvals=x_ticks, ticktext=[str(t) for t in x_ticks],
        showticklabels=(row == 2), tickfont=tickfont,
        ticks="inside", ticklen=7, tickwidth=1.5, tickcolor=AX,
        showline=True, linecolor=AX, linewidth=1.6, mirror="ticks",
        showgrid=True, gridcolor=GRID, gridwidth=1, griddash="dash", zeroline=False,
        minor=dict(tickmode="linear", tick0=0, dtick=100, ticks="inside", ticklen=4,
                   tickwidth=1.2, tickcolor=AX, showgrid=False),
    )
    layout["yaxis" + k] = dict(
        domain=row_dom[row], range=[0, 0.55 if row == 0 else 0.7], anchor="x" + k,
        tickmode="array", tickvals=yt, ticktext=[f"{t:.1f}" for t in yt],
        showticklabels=(col == 0), tickfont=tickfont,
        ticks="inside", ticklen=7, tickwidth=1.5, tickcolor=AX,
        showline=True, linecolor=AX, linewidth=1.6, mirror="ticks",
        showgrid=True, gridcolor=GRID, gridwidth=1, griddash="dash", zeroline=False,
        minor=dict(tickmode="linear", tick0=0, dtick=0.05, ticks="inside", ticklen=4,
                   tickwidth=1.2, tickcolor=AX, showgrid=False),
    )

legend_common = dict(xanchor="left", yanchor="top", bgcolor="white", bordercolor="#9a9a9a",
                     borderwidth=1, font=dict(family=SANS, size=19, color="#000"), tracegroupgap=0,
                     itemwidth=30, traceorder="normal")
layout["legend"] = dict(x=px(99), y=py(9), **legend_common)
layout["legend2"] = dict(x=px(517), y=py(9), **legend_common)
fig.update_layout(**layout)

# method boxes (italic serif labels)
boxes = [  # (text, x0, x1, y_top, y_bottom, text center x, text center y)
    ("F E M", 408, 489, 8, 58, 448, 33),
    ("H i l b e r t", 99, 228, 199, 248, 162, 224),
    ("C o i l e d", 99, 207, 390, 439, 152, 415),
    ("F E M", 827, 905, 8, 58, 868, 33),
    ("H i l b e r t", 518, 647, 199, 249, 582, 224),
    ("C o i l e d", 518, 627, 390, 439, 571, 415),
]
for txt, x0, x1, yt_, yb, tx, ty in boxes:
    fig.add_shape(type="rect", xref="paper", yref="paper", x0=px(x0), x1=px(x1), y0=py(yb), y1=py(yt_),
                  line=dict(color="#a6a6a6", width=1), fillcolor="white", layer="above")
    fig.add_annotation(xref="paper", yref="paper", x=px(tx), y=py(ty), text=txt, showarrow=False,
                       xanchor="center", yanchor="middle",
                       font=dict(family=SERIF, size=27, color="#3a3a3a", style="italic"))

# panel letters
letter_pos = [(372, 37), (452, 357), (453, 547), (790, 37), (871, 357), (878, 547)]
for lt, (lx, ly) in zip(panel_letters, letter_pos):
    fig.add_annotation(xref="paper", yref="paper", x=px(lx), y=py(ly), text=lt, showarrow=False,
                       xanchor="center", yanchor="middle", font=dict(family=SANS, size=37, color="#000"))

# axis titles
for cx in (289.5, 705.5):
    fig.add_annotation(xref="paper", yref="paper", x=px(cx), y=py(632), text="Frequency [Hz]",
                       showarrow=False, xanchor="center", yanchor="middle",
                       font=dict(family=SANS, size=25, color="#111"))
fig.add_annotation(xref="paper", yref="paper", x=px(21), y=py(295), text="Absorption Coefficient",
                   textangle=-90, showarrow=False, xanchor="center", yanchor="middle",
                   font=dict(family=SANS, size=32, color="#111"))

fig.write_html("out.html")
